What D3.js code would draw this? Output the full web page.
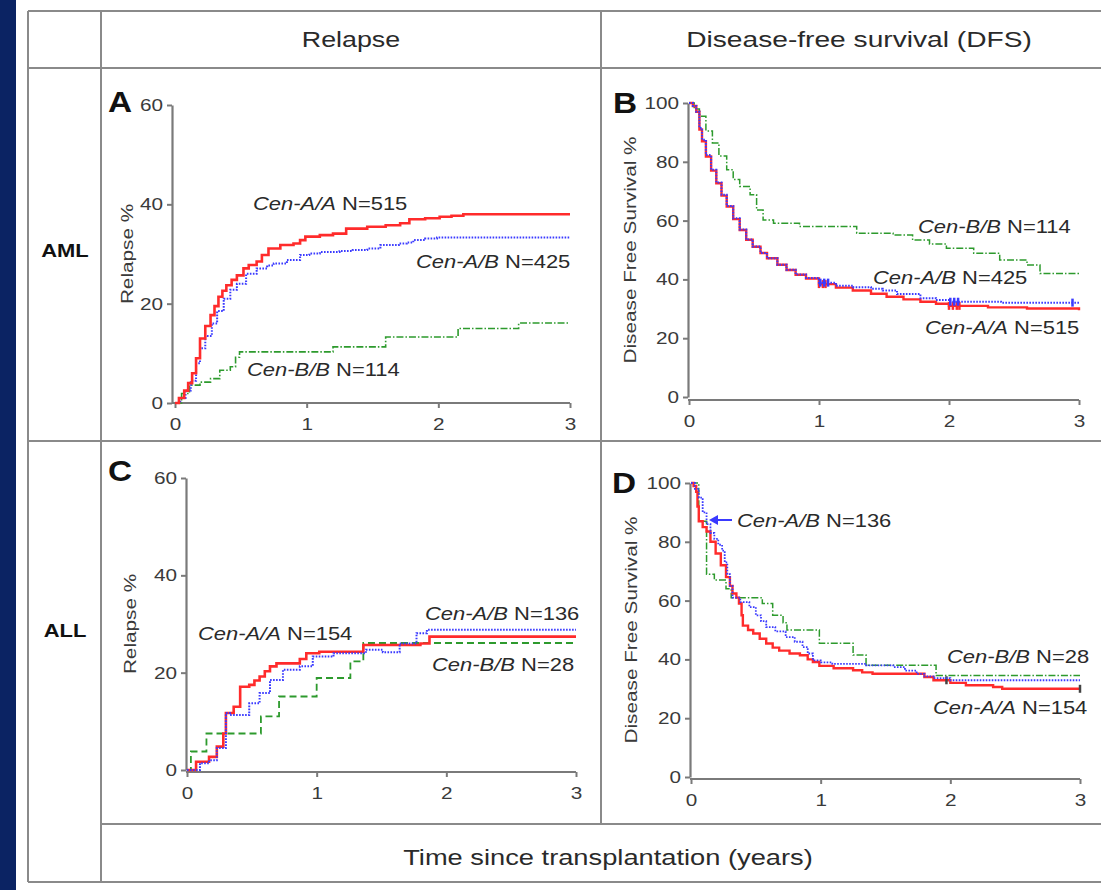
<!DOCTYPE html>
<html><head><meta charset="utf-8">
<script src="https://cdn.jsdelivr.net/npm/d3@7"></script>
<style>body{margin:0;background:#fff}svg{display:block}text{font-family:"Liberation Sans",Arial,sans-serif}</style>
</head><body>
<script>
// ---------- DATA ----------
const columnHeaders = ["Relapse", "Disease-free survival (DFS)"];
const rowHeaders = ["AML", "ALL"];
const xTitle = "Time since transplantation (years)";
const xTicks = [0, 1, 2, 3];
const relapseTicks = [0, 20, 40, 60];
const dfsTicks = [0, 20, 40, 60, 80, 100];
const genotypes = ["Cen-A/A", "Cen-A/B", "Cen-B/B"];
const nAML = [515, 425, 114];
const nALL = [154, 136, 28];

// Panel A: AML relapse (%)
const aAA = [[0,0],[0.03,1],[0.07,2.5],[0.1,4],[0.13,6],[0.16,9],[0.19,13],[0.23,15.5],[0.27,17.7],[0.3,19.5],[0.33,21.4],[0.36,22.6],[0.39,23.7],[0.43,24.8],[0.47,25.7],[0.52,27.1],[0.56,27.8],[0.62,28.5],[0.66,29.8],[0.71,31.1],[0.8,31.8],[0.9,32.1],[0.95,32.8],[0.99,33.5],[1.1,33.8],[1.2,34.1],[1.3,35.1],[1.46,35.5],[1.6,35.8],[1.71,36.2],[1.78,37],[1.9,37.2],[2.01,37.5],[2.1,37.7],[2.19,38],[3,38]];
const aAB = [[0,0],[0.04,1],[0.08,2.5],[0.12,4.5],[0.16,8],[0.19,11],[0.23,13.5],[0.28,16],[0.32,18.5],[0.37,21],[0.42,22.8],[0.47,24],[0.54,26],[0.62,27.1],[0.7,27.7],[0.75,28.1],[0.85,28.8],[0.95,29.8],[1.02,30.1],[1.1,30.4],[1.25,30.6],[1.35,30.8],[1.46,31.1],[1.56,31.8],[1.7,32.1],[1.76,32.3],[1.81,32.8],[1.9,33.1],[1.99,33.3],[3,33.3]];
const aBB = [[0,0],[0.05,1.9],[0.11,3.6],[0.19,4.2],[0.27,4.9],[0.34,6.6],[0.42,7.3],[0.46,9.2],[0.49,10.3],[1.2,11.3],[1.6,13.3],[2.15,15],[2.61,16.1],[3,16.1]];

// Panel B: AML disease-free survival (%)
const bAA = [[0,100],[0.03,99],[0.056,97],[0.08,91],[0.1,87],[0.13,81.8],[0.17,77],[0.21,72.7],[0.25,68.5],[0.29,64.8],[0.34,60.5],[0.39,56.8],[0.44,53.5],[0.49,51.1],[0.55,49],[0.6,47.2],[0.68,45],[0.75,43.2],[0.82,41.6],[0.9,40.3],[1.0,38.4],[1.13,37.2],[1.26,36.2],[1.4,35.1],[1.52,34.1],[1.65,33.2],[1.78,32.4],[1.9,31.7],[2.0,31],[2.3,30.5],[2.6,30.1],[3,29.5]];
const bAB = [[0,100],[0.03,99],[0.056,97],[0.08,91.5],[0.1,87.5],[0.13,82.3],[0.17,77.3],[0.21,73],[0.25,68.8],[0.29,65],[0.34,60.8],[0.39,57],[0.44,53.6],[0.49,51.2],[0.55,49],[0.6,47.2],[0.68,45],[0.75,43.3],[0.82,41.7],[0.9,40.5],[1.0,38.9],[1.13,37.8],[1.26,37.3],[1.4,36.8],[1.49,36.2],[1.6,35],[1.78,33.6],[1.9,33],[2.0,32.4],[2.4,32.1],[3,31.8]];
const bBB = [[0,100],[0.04,98],[0.08,95.5],[0.13,90.5],[0.18,86.4],[0.23,82],[0.29,77.3],[0.34,74],[0.39,71.6],[0.47,68.8],[0.52,63.6],[0.57,60.2],[0.65,59.1],[0.85,58],[1.21,58],[1.29,55.7],[1.57,55.1],[1.72,53.4],[1.85,52],[1.98,50.6],[2.19,48.9],[2.39,46.6],[2.6,44.9],[2.7,42],[3,41.5]];
const bAAcens = [1.0, 1.03, 1.05, 2.0, 2.03, 2.06, 2.08];
const bABcens = [1.01, 1.04, 1.07, 2.01, 2.04, 2.07, 2.95];

// Panel C: ALL relapse (%)
const cAA = [[0,0],[0.07,1.7],[0.17,2.7],[0.23,4.8],[0.28,7.5],[0.3,11.7],[0.36,13],[0.41,17.1],[0.48,17.5],[0.52,18.4],[0.56,19.2],[0.6,20.3],[0.64,21.3],[0.69,21.9],[0.82,21.9],[0.87,22.8],[0.92,24],[1.02,24.3],[1.28,24.3],[1.36,25.7],[1.8,26],[1.87,27.4],[3,27.4]];
const cAB = [[0,0],[0.1,1.4],[0.17,2],[0.23,4.5],[0.3,11.7],[0.33,11.3],[0.43,11.3],[0.48,13.7],[0.56,15.8],[0.64,18.5],[0.74,20.6],[0.87,21.3],[0.97,23.3],[1.13,24],[1.38,24.7],[1.51,24.2],[1.64,26],[1.77,28.1],[1.85,28.8],[3,28.8]];
const cBB = [[0,0],[0.03,3.8],[0.15,7.5],[0.57,11],[0.71,15.1],[1.0,18.9],[1.26,22.3],[1.36,26.1],[3,26.1]];

// Panel D: ALL disease-free survival (%)
const dAA = [[0,100],[0.02,99],[0.04,97],[0.05,92],[0.06,87],[0.09,85],[0.12,83.5],[0.15,80],[0.19,76],[0.23,72],[0.27,68],[0.3,65],[0.32,62.4],[0.35,61],[0.37,59],[0.39,55],[0.4,51.5],[0.44,50],[0.48,48.8],[0.53,47],[0.58,45.4],[0.63,44],[0.68,43],[0.76,42],[0.84,41.4],[0.9,40],[0.94,39.1],[0.99,37.8],[1.1,37],[1.25,36.3],[1.32,35.6],[1.4,35.1],[1.71,35.1],[1.8,34],[1.87,32.9],[2.0,32],[2.12,31.2],[2.33,30.6],[2.4,30],[3,30]];
const dAB = [[0,100],[0.03,98],[0.06,95],[0.09,90],[0.12,86],[0.15,83],[0.18,81],[0.21,79],[0.24,77],[0.26,73],[0.28,69],[0.3,65],[0.32,61],[0.38,59.5],[0.45,57.8],[0.5,55],[0.54,53],[0.58,51],[0.65,49.5],[0.73,47.6],[0.8,46],[0.86,44.2],[0.9,42],[0.94,39.7],[1.0,39],[1.09,38.5],[1.35,38],[1.56,37.4],[1.65,36.2],[1.74,35.1],[1.8,34.2],[1.87,33.6],[2.0,32.9],[3,32.9]];
const dBB = [[0,100],[0.06,87],[0.12,69],[0.18,67],[0.27,64],[0.31,61],[0.55,59],[0.63,55],[0.71,52.5],[0.74,50],[0.99,45.5],[1.25,41.5],[1.35,38],[1.89,34.5],[3,34.5]];
const dAAcens = [1.97, 3];

// ---------- LAYOUT / STYLE ----------
const W = 1101, H = 890;
const SX = 1.22; // horizontal glyph stretch of the original figure's typeface
const colors = {AA: "#ff2b2b", AB: "#3a3aff", BB: "#2d9a2d"};
const gridStroke = "#8a8a8a";

const svg = d3.select("body").append("svg").attr("width", W).attr("height", H);
svg.append("rect").attr("width", W).attr("height", H).attr("fill", "#fff");
svg.append("rect").attr("x", 0).attr("y", 0).attr("width", 16).attr("height", H).attr("fill", "#0b2363");

function stext(parent, x, y, parts, o = {}) {
  const t = parent.append("text")
    .attr("transform", `translate(${x},${y})` + (o.rotate ? ` rotate(${o.rotate})` : "") + ` scale(${o.sx || SX},1)`)
    .attr("font-size", o.size || 18)
    .attr("font-weight", o.weight || "normal")
    .attr("text-anchor", o.anchor || "start")
    .attr("fill", o.fill || "#2a2a2a");
  (Array.isArray(parts) ? parts : [[parts, false]]).forEach(([s, it]) => {
    t.append("tspan").text(s).attr("font-style", it ? "italic" : "normal");
  });
  return t;
}

// table grid
const grid = svg.append("g").attr("stroke", gridStroke).attr("stroke-width", 2).attr("fill", "none");
const gl = (x1, y1, x2, y2) => grid.append("line").attr("x1", x1).attr("y1", y1).attr("x2", x2).attr("y2", y2);
gl(28, 11, 1101, 11);          // top
gl(28, 882, 1101, 882);        // bottom
gl(28, 11, 28, 882);           // left
gl(101, 11, 101, 882);         // row-header divider
gl(601, 11, 601, 824);         // column divider
gl(28, 68, 1101, 68);          // header bottom
gl(28, 441, 1101, 441);        // AML / ALL
gl(101, 824, 1101, 824);       // x-title row

// headers
stext(svg, 351, 47, columnHeaders[0], {size: 22, anchor: "middle"});
stext(svg, 859, 47, columnHeaders[1], {size: 22, anchor: "middle", sx: 1.28});
stext(svg, 65, 257, rowHeaders[0], {size: 18, weight: "bold", anchor: "middle", fill: "#111"});
stext(svg, 65, 637, rowHeaders[1], {size: 18, weight: "bold", anchor: "middle", fill: "#111"});
stext(svg, 608, 865, xTitle, {size: 22, anchor: "middle", sx: 1.24});

// ---------- PANELS ----------
function panel(cfg) {
  const g = svg.append("g");
  const x = d3.scaleLinear().domain([0, 3]).range(cfg.xr);
  const y = d3.scaleLinear().domain([0, cfg.ymax]).range(cfg.yr);
  const axisColor = "#7a7a7a";

  // y axis
  const ya = g.append("g").attr("transform", `translate(${cfg.yAxisX},0)`)
    .call(d3.axisLeft(y).tickValues(cfg.yTicks).tickFormat(d3.format("d")).tickSize(5).tickSizeOuter(0).tickPadding(4));
  ya.select(".domain").attr("stroke", axisColor).attr("stroke-width", 2.2);
  ya.selectAll(".tick line").attr("stroke", axisColor).attr("stroke-width", 2);
  ya.selectAll(".tick text").attr("font-size", 17).attr("fill", "#3a3a3a")
    .attr("font-family", "Liberation Sans, Arial, sans-serif")
    .attr("transform", `scale(${SX},1)`).attr("x", -9 / SX);

  // x axis
  const xa = g.append("g").attr("transform", `translate(0,${cfg.xAxisY})`)
    .call(d3.axisBottom(x).tickValues(xTicks).tickFormat(d3.format("d")).tickSize(5).tickSizeOuter(0).tickPadding(10));
  xa.select(".domain").attr("stroke", axisColor).attr("stroke-width", 2.2)
    .attr("d", `M${cfg.yAxisX},0H${x(3)}`);
  xa.selectAll(".tick line").attr("stroke", axisColor).attr("stroke-width", 2);
  xa.selectAll(".tick text").attr("font-size", 17).attr("fill", "#3a3a3a")
    .attr("font-family", "Liberation Sans, Arial, sans-serif")
    .attr("transform", `scale(${SX},1)`);

  // titles
  stext(g, cfg.titleX, (cfg.yr[0] + cfg.yr[1]) / 2 + cfg.titleDy, cfg.yTitle, {size: 17, rotate: -90, anchor: "middle", fill: "#3a3a3a"});
  stext(g, cfg.letter[1], cfg.letter[2], cfg.letter[0], {size: 29, weight: "bold", fill: "#111", sx: 1.15});

  const line = d3.line().x(d => x(d[0])).y(d => y(d[1])).curve(d3.curveStepAfter);
  cfg.series.forEach(s => {
    g.append("path").datum(s.data).attr("d", line).attr("fill", "none")
      .attr("stroke", s.color).attr("stroke-width", s.width)
      .attr("stroke-dasharray", s.dash || null);
    if (s.cens) {
      const stepY = t => { let v = s.data[0][1]; s.data.forEach(d => { if (d[0] <= t) v = d[1]; }); return v; };
      g.selectAll(null).data(s.cens).join("line")
        .attr("x1", t => x(t)).attr("x2", t => x(t))
        .attr("y1", t => y(stepY(t)) - 4).attr("y2", t => y(stepY(t)) + 4)
        .attr("stroke", s.censColor || s.color).attr("stroke-width", 2.5);
    }
  });

  cfg.labels.forEach(l => {
    stext(g, l.x, l.y, [[l.name, true], [" N=" + l.n, false]], {size: 18});
  });
  return {g, x, y};
}

const dashBlue = "1.6,1.4", dashGreen = "7,2,1.5,2";

panel({
  xr: [175, 570], yr: [403, 105], ymax: 60, yTicks: relapseTicks, yAxisX: 172, xAxisY: 403,
  yTitle: "Relapse %", titleX: 133, titleDy: 0, letter: ["A", 108, 112],
  series: [
    {data: aBB, color: colors.BB, width: 1.6, dash: dashGreen},
    {data: aAB, color: colors.AB, width: 2, dash: dashBlue},
    {data: aAA, color: colors.AA, width: 2.6},
  ],
  labels: [
    {name: genotypes[0], n: nAML[0], x: 253, y: 210},
    {name: genotypes[1], n: nAML[1], x: 416, y: 268},
    {name: genotypes[2], n: nAML[2], x: 247, y: 376},
  ]
});

panel({
  xr: [689, 1079], yr: [397, 103], ymax: 100, yTicks: dfsTicks, yAxisX: 688, xAxisY: 400,
  yTitle: "Disease Free Survival %", titleX: 636, titleDy: 0, letter: ["B", 613, 113],
  series: [
    {data: bBB, color: colors.BB, width: 1.5, dash: dashGreen},
    {data: bAA, color: colors.AA, width: 2.4, cens: bAAcens},
    {data: bAB, color: colors.AB, width: 2, dash: dashBlue, cens: bABcens},
  ],
  labels: [
    {name: genotypes[2], n: nAML[2], x: 918, y: 233},
    {name: genotypes[1], n: nAML[1], x: 873, y: 284},
    {name: genotypes[0], n: nAML[0], x: 925, y: 334},
  ]
});

panel({
  xr: [187, 576], yr: [770, 478], ymax: 60, yTicks: relapseTicks, yAxisX: 186, xAxisY: 772,
  yTitle: "Relapse %", titleX: 136, titleDy: 0, letter: ["C", 108, 481],
  series: [
    {data: cBB, color: colors.BB, width: 1.8, dash: "7,4"},
    {data: cAA, color: colors.AA, width: 2.6},
    {data: cAB, color: colors.AB, width: 2, dash: dashBlue},
  ],
  labels: [
    {name: genotypes[1], n: nALL[1], x: 425, y: 620},
    {name: genotypes[0], n: nALL[0], x: 198, y: 640},
    {name: genotypes[2], n: nALL[2], x: 432, y: 671},
  ]
});

const pD = panel({
  xr: [691, 1080], yr: [777, 483], ymax: 100, yTicks: dfsTicks, yAxisX: 690, xAxisY: 779,
  yTitle: "Disease Free Survival %", titleX: 637, titleDy: 0, letter: ["D", 612, 493],
  series: [
    {data: dBB, color: colors.BB, width: 1.5, dash: dashGreen},
    {data: dAA, color: colors.AA, width: 2.4, cens: dAAcens, censColor: "#444"},
    {data: dAB, color: colors.AB, width: 1.8, dash: dashBlue},
  ],
  labels: [
    {name: genotypes[1], n: nALL[1], x: 737, y: 527},
    {name: genotypes[2], n: nALL[2], x: 947, y: 663},
    {name: genotypes[0], n: nALL[0], x: 933, y: 714},
  ]
});
// arrow pointing at the Cen-A/B curve in D
pD.g.append("line").attr("x1", 732).attr("y1", 520).attr("x2", 716).attr("y2", 520)
  .attr("stroke", colors.AB).attr("stroke-width", 2);
pD.g.append("path").attr("d", "M709,520L718,515L718,525Z").attr("fill", colors.AB);
</script>
</body></html>
